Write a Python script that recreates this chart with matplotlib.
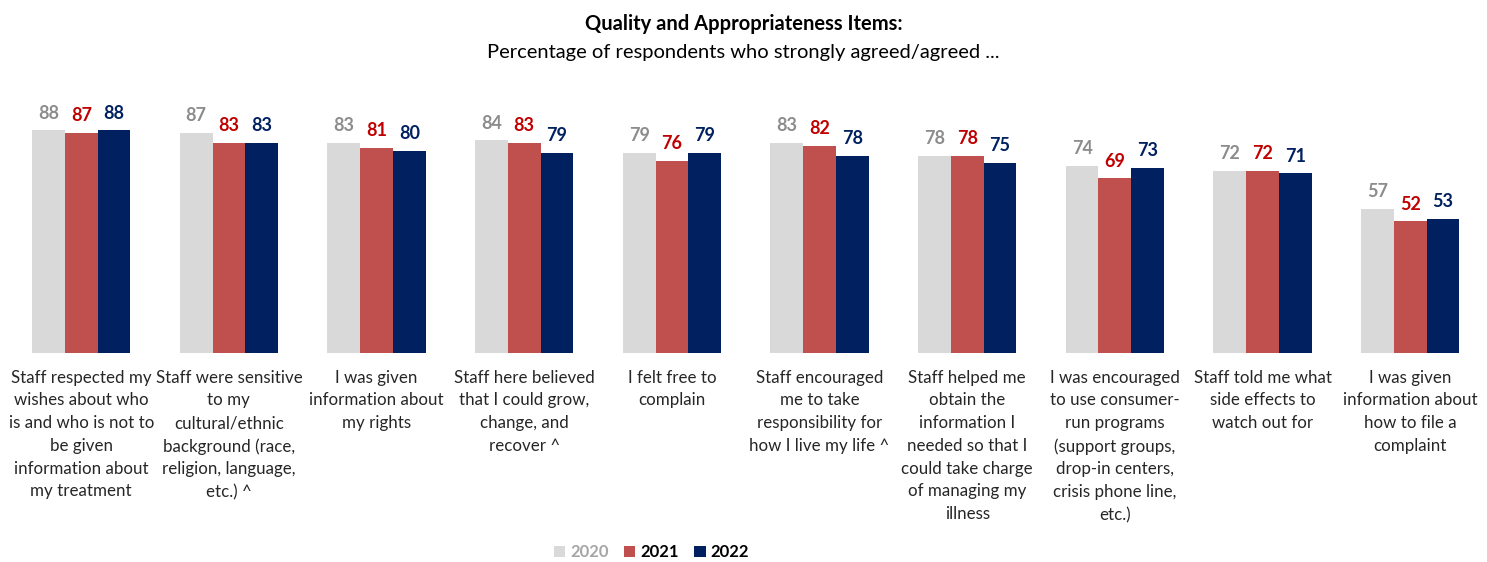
import matplotlib as mpl
import matplotlib.pyplot as plt
import numpy as np

mpl.rcParams['font.family'] = ['Lato', 'DejaVu Sans']

categories = [
    "Staff respected my\nwishes about who\nis and who is not to\nbe given\ninformation about\nmy treatment",
    "Staff were sensitive\nto my\ncultural/ethnic\nbackground (race,\nreligion, language,\netc.) ^",
    "I was given\ninformation about\nmy rights",
    "Staff here believed\nthat I could grow,\nchange, and\nrecover ^",
    "I felt free to\ncomplain",
    "Staff encouraged\nme to take\nresponsibility for\nhow I live my life ^",
    "Staff helped me\nobtain the\ninformation I\nneeded so that I\ncould take charge\nof managing my\nillness",
    "I was encouraged\nto use consumer-\nrun programs\n(support groups,\ndrop-in centers,\ncrisis phone line,\netc.)",
    "Staff told me what\nside effects to\nwatch out for",
    "I was given\ninformation about\nhow to file a\ncomplaint",
]
years = ["2020", "2021", "2022"]
pct_2020 = [88, 87, 83, 84, 79, 83, 78, 74, 72, 57]
pct_2021 = [87, 83, 81, 83, 76, 82, 78, 69, 72, 52]
pct_2022 = [88, 83, 80, 79, 79, 78, 75, 73, 71, 53]

bar_colors = ['#D9D9D9', '#C0504D', '#002060']
label_colors = ['#8C8C8C', '#C00000', '#002060']
legend_text_colors = ['#A6A6A6', '#000000', '#000000']

fig = plt.figure(figsize=(14.87, 5.62), dpi=100)
ax = fig.add_axes([0.005, 0.372, 0.993, 0.45])

x = np.arange(len(categories))
width = 0.222
series = [pct_2020, pct_2021, pct_2022]
for i, vals in enumerate(series):
    pos = x + (i - 1) * width
    ax.bar(pos, vals, width=width, color=bar_colors[i], label=years[i])
    for xp, v in zip(pos, vals):
        ax.text(xp, v + 3.5, f"{v}", ha='center', va='bottom', fontsize=13,
                fontweight='bold', color=label_colors[i])

ax.set_xlim(-0.5, len(categories) - 0.5)
ax.set_ylim(0, 100)
ax.set_yticks([])
ax.set_xticks(x)
ax.set_xticklabels(categories, fontsize=12.2, color='#262626', linespacing=1.52, va='top')
ax.tick_params(axis='x', length=0, pad=12)
for s in ax.spines.values():
    s.set_visible(False)

fig.text(0.5, 0.958, "Quality and Appropriateness Items:", ha='center', va='center',
         fontsize=14.5, fontweight='bold')
fig.text(0.5, 0.906, "Percentage of respondents who strongly agreed/agreed ...",
         ha='center', va='center', fontsize=14.5)

leg = fig.legend(loc='center', bbox_to_anchor=(0.438, 0.017), ncol=3, frameon=False,
                 fontsize=12, handlelength=0.7, handleheight=0.7, handletextpad=0.3,
                 columnspacing=0.9)
for t, c in zip(leg.get_texts(), legend_text_colors):
    t.set_color(c)
    t.set_fontweight('bold')

fig.savefig('out.png', dpi=100)
